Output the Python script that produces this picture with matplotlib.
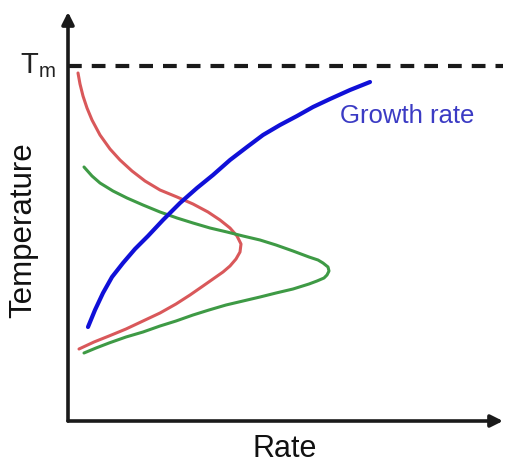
import numpy as np
import matplotlib.pyplot as plt

plt.rcParams['font.family'] = ['Liberation Sans', 'DejaVu Sans']

# curves as (rate, temperature) in arbitrary units
growth_rate = [20, 27, 35, 44, 55, 67, 80, 95, 112, 129, 145, 162, 179, 195, 212,
               229, 245, 262, 282, 302]
growth_temp = [94, 111, 128, 144, 158, 172, 185, 201, 218, 233, 246, 261, 274, 286, 296,
               305, 314, 322, 331, 339]

red_rate = [10, 12, 15, 19, 24, 32, 42, 52, 64, 77, 92, 109, 125, 140, 152, 162,
            169, 173, 172, 168, 162, 155, 145, 135, 122, 108, 92, 75, 58, 41, 26, 11]
red_temp = [348, 337, 325, 313, 301, 286, 272, 261, 250, 240, 231, 224, 217, 209, 201, 193,
            185, 177, 169, 162, 155, 149, 142, 135, 126, 117, 108, 100, 92, 85, 79, 72]

green_rate = [16, 24, 32, 45, 59, 75, 92, 109, 125, 142, 159, 175, 192, 208, 225, 241,
              250, 255, 260, 261, 259, 256, 249, 241, 225, 208, 192, 175, 158, 141,
              125, 108, 92, 75, 58, 41, 28, 16]
green_temp = [254, 245, 238, 230, 223, 216, 209, 203, 198, 193, 189, 185, 181, 176, 170, 164,
              161, 158, 154, 150, 146, 143, 140, 137, 132, 128, 124, 120, 116, 111,
              106, 100, 95, 89, 84, 78, 73, 68]

t_melt = 355

fig = plt.figure(figsize=(5.05, 4.66), dpi=100)
ax = fig.add_axes([68 / 505, 45 / 466, 435 / 505, 409 / 466])
ax.set_xlim(0, 435)
ax.set_ylim(0, 409)
for s in ax.spines.values():
    s.set_visible(False)
ax.set_xticks([])
ax.set_yticks([])

# axes with arrow heads
arrow = dict(arrowstyle='-|>', lw=2.6, color='#1a1a1a', mutation_scale=18, shrinkA=0, shrinkB=0)
ax.annotate('', xy=(0, 1), xytext=(0, 0), xycoords='axes fraction', arrowprops=arrow)
ax.annotate('', xy=(1, 0), xytext=(0, 0), xycoords='axes fraction', arrowprops=arrow)

ax.axhline(t_melt, color='#1a1a1a', lw=3, ls=(0, (3.3, 2.4)), clip_on=False)

ax.plot(red_rate, red_temp, color='#d9585a', lw=2.2, solid_capstyle='round', solid_joinstyle='round')
ax.plot(green_rate, green_temp, color='#3e9a45', lw=2.2, solid_capstyle='round', solid_joinstyle='round')
ax.plot(growth_rate, growth_temp, color='#1010d8', lw=3, solid_capstyle='round', solid_joinstyle='round')

ax.text(-12, 348, r'T$_\mathregular{m}$', fontsize=21, ha='right', va='baseline',
        color='#222222', clip_on=False)
ax.text(272, 298, 'Growth rate', fontsize=18.5, color='#3b3bc4', ha='left', va='baseline')
ax.text(-45, 191, 'Temperature', fontsize=22.5, rotation=90, ha='center', va='center',
        color='#111111')
ax.text(217, -36, 'Rate', fontsize=22, ha='center', va='baseline', color='#111111')

fig.savefig('out.png', dpi=100)
